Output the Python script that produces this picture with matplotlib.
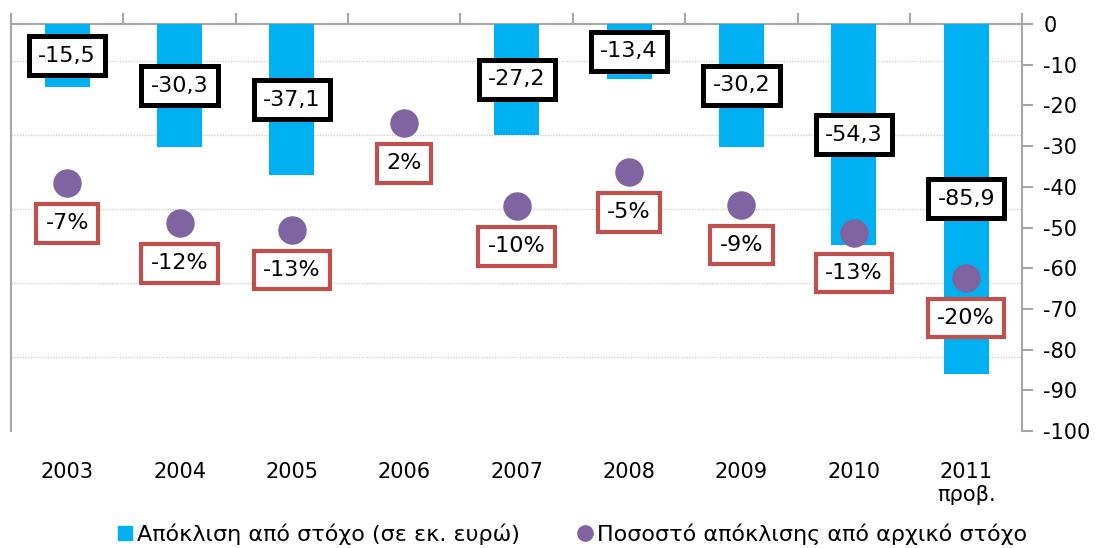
import matplotlib.pyplot as plt
from matplotlib.lines import Line2D

plt.rcParams['font.family'] = ['DejaVu Sans']
plt.rcParams['axes.unicode_minus'] = False

# ───── 데이터 ─────
years = ["2003", "2004", "2005", "2006", "2007", "2008", "2009", "2010", "2011\nπροβ."]
deviation = [-15.5, -30.3, -37.1, 0.0, -27.2, -13.4, -30.2, -54.3, -85.9]
deviation_labels = ["-15,5", "-30,3", "-37,1", None, "-27,2", "-13,4", "-30,2", "-54,3", "-85,9"]
pct = [-6.5, -11.9, -12.8, 1.6, -9.6, -5.0, -9.4, -13.2, -19.3]
pct_labels = ["-7%", "-12%", "-13%", "2%", "-10%", "-5%", "-9%", "-13%", "-20%"]
right_ticks = list(range(0, -101, -10))
pct_grid = [-30, -20, -10, 0, 10]

BLUE = "#00B0F0"
PURPLE = "#8064A2"
RED = "#C0504D"
AXC = "#A6A6A6"
FS = 15
LFS = 16

fig = plt.figure(figsize=(10.97, 5.48), dpi=100)
ax = fig.add_axes([0.010, 0.2135, 0.922, 0.7427])
ax.set_ylim(-40, 15)

x = list(range(len(years)))
ax.set_xlim(-0.5, len(years) - 0.5)

# ───── 막대 (εκ. ευρώ) ─────
axb = ax.twinx()
axb.set_zorder(1)
axb.patch.set_visible(False)
axb.bar(x, deviation, width=0.4, color=BLUE)
axb.set_ylim(-100, 0)
axb.set_yticks(right_ticks)
axb.tick_params(axis="y", direction="out", length=8, color=AXC, width=1.5, pad=7, labelsize=FS)
for s in ["left", "top", "bottom"]:
    axb.spines[s].set_visible(False)
axb.spines["right"].set_color(AXC)
axb.spines["right"].set_linewidth(1.5)
for xi, v, lab in zip(x, deviation, deviation_labels):
    if lab is None:
        continue
    axb.text(xi, v / 2, lab, ha="center", va="center", fontsize=LFS,
             bbox=dict(boxstyle="square,pad=0.42", fc="white", ec="black", lw=3.6))

# ───── 점 (%) ─────
axd = ax.twinx()
axd.set_zorder(2)
axd.patch.set_visible(False)
axd.set_ylim(-40, 15)
axd.axis("off")
axd.scatter(x, pct, s=380, color=PURPLE, zorder=3)
for xi, p, lab in zip(x, pct, pct_labels):
    axd.annotate(lab, (xi, p), xytext=(0, -29), textcoords="offset points",
                 ha="center", va="center", fontsize=LFS, zorder=4,
                 bbox=dict(boxstyle="square,pad=0.42", fc="white", ec=RED, lw=3))

# ───── 기본 축 (격자, 연도) ─────
ax.set_yticks(pct_grid)
ax.yaxis.grid(True, color="#D0D0D0", linestyle=(0, (1, 1)), linewidth=1)
ax.tick_params(axis="y", left=False, right=False, labelleft=False, labelright=False)
ax.set_xticks(x, labels=years)
ax.set_xticks([i - 0.5 for i in range(len(years) + 1)], minor=True)
ax.tick_params(axis="x", which="major", bottom=True, top=False, length=0, pad=22, labelsize=FS)
ax.tick_params(axis="x", which="minor", bottom=False, top=True, length=8, color=AXC, width=1.5)
for s in ["bottom", "right"]:
    ax.spines[s].set_visible(False)
for s in ["left", "top"]:
    ax.spines[s].set_color(AXC)
    ax.spines[s].set_linewidth(1.5)

handles = [
    Line2D([], [], marker="s", linestyle="none", color=BLUE, markersize=10),
    Line2D([], [], marker="o", linestyle="none", color=PURPLE, markersize=11),
]
fig.legend(handles, ["Απόκλιση από στόχο (σε εκ. ευρώ)", "Ποσοστό απόκλισης από αρχικό στόχο"],
           loc="center", bbox_to_anchor=(0.521, 0.026), ncol=2, frameon=False, fontsize=16,
           handletextpad=0.15, columnspacing=2.5, handlelength=0.8)

plt.savefig("out.png", dpi=100)
